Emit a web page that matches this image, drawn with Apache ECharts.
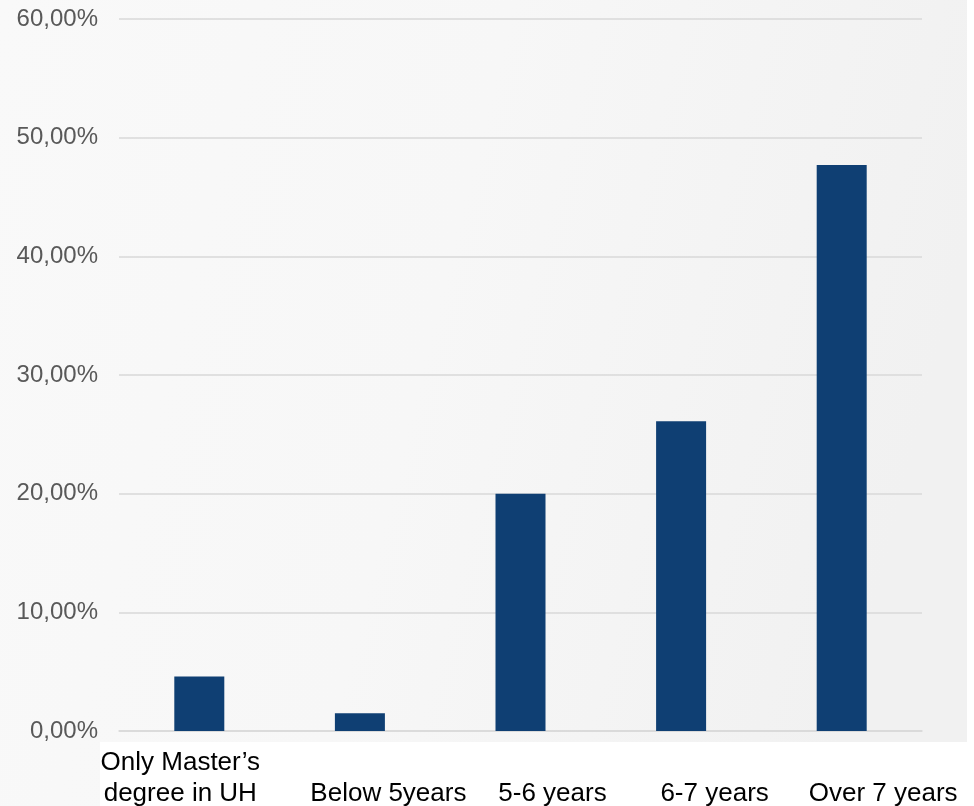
<!DOCTYPE html>
<html>
<head>
<meta charset="utf-8">
<script src="https://cdn.jsdelivr.net/npm/echarts@6/dist/echarts.min.js"></script>
<style>html,body{margin:0;padding:0;background:#fff;}#c{width:974px;height:806px;}</style>
</head>
<body>
<div id="c"></div>
<script>
var categories = ['Only Master\u2019s\ndegree in UH', 'Below 5years', '5-6 years', '6-7 years', 'Over 7 years'];
var values = [4.6, 1.5, 20.0, 26.1, 47.7];
var yTicks = [0, 10, 20, 30, 40, 50, 60];

var labelPads = [[0, 38, 0, 0], [31, 0, 0, 57], [31, 0, 0, 64], [31, 0, 0, 67], [31, 0, 0, 83]];
var font = '"Liberation Sans", Arial, sans-serif';

var chart = echarts.init(document.getElementById('c'), null, {renderer: 'canvas'});
chart.setOption({
  animation: false,
  backgroundColor: '#ffffff',
  graphic: [
    {type: 'rect', z: -20, silent: true, shape: {x: 0, y: 0, width: 967, height: 806},
     style: {fill: new echarts.graphic.LinearGradient(0, 0, 1, 0.3, [
       {offset: 0, color: '#f9f9f9'}, {offset: 0.5, color: '#f7f7f7'}, {offset: 1, color: '#f1f1f1'}])}},
    {type: 'rect', z: -10, silent: true, shape: {x: 100, y: 742, width: 867, height: 64},
     style: {fill: '#ffffff'}}
  ],
  grid: {left: 119, right: 52, top: 19, bottom: 75, containLabel: false, outerBoundsMode: 'none'},
  xAxis: {
    type: 'category',
    data: categories.map(function (c, i) { return {value: c, textStyle: {padding: labelPads[i]}}; }),
    axisLine: {show: true, lineStyle: {color: '#d9d9d9', width: 1.5}},
    axisTick: {show: false},
    axisLabel: {
      interval: 0, color: '#000000', fontSize: 26, fontFamily: font,
      lineHeight: 31, margin: 16, align: 'center'
    }
  },
  yAxis: {
    type: 'value', min: yTicks[0], max: yTicks[yTicks.length - 1], interval: 10,
    axisLine: {show: false}, axisTick: {show: false},
    splitLine: {show: true, lineStyle: {color: '#d9d9d9', width: 1.5}},
    axisLabel: {
      color: '#595959', fontSize: 24, fontFamily: font, margin: 21,
      formatter: function (v) { return v.toFixed(2).replace('.', ',') + '%'; }
    }
  },
  series: [{
    type: 'bar', data: values, barWidth: 50,
    itemStyle: {color: '#0f3f73'}
  }]
});
</script>
</body>
</html>
